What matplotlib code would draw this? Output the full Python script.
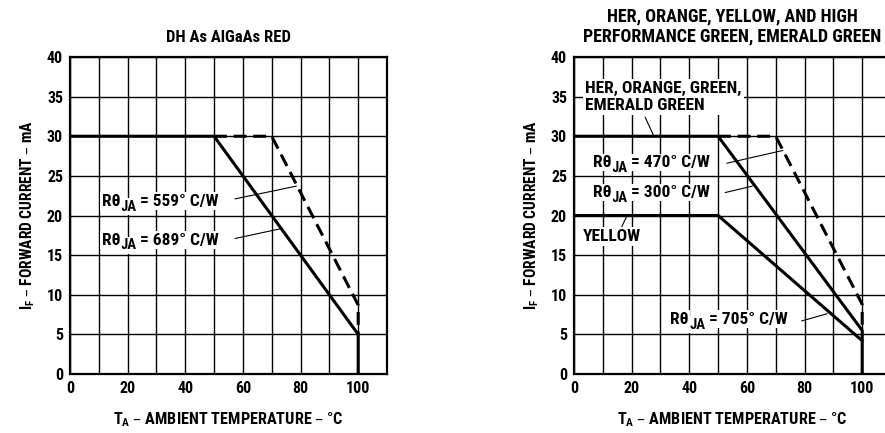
import matplotlib
matplotlib.use('Agg')
import matplotlib.pyplot as plt

plt.rcParams['font.family'] = ['Roboto Condensed', 'DejaVu Sans']
plt.rcParams['font.weight'] = 'bold'
plt.rcParams['axes.titleweight'] = 'bold'
plt.rcParams['axes.labelweight'] = 'bold'

# left chart: DH As AlGaAs red
left_solid_t = [0, 50, 100, 100]
left_solid_i = [30, 30, 5, 0]
left_dash_t = [50, 70, 100, 100]
left_dash_i = [30, 30, 8.7, 5]

# right chart: HER / orange / green / emerald green and yellow
her_t = [0, 50, 100, 100]
her_i = [30, 30, 5.5, 0]
yellow_t = [0, 50, 100]
yellow_i = [20, 20, 4.2]
right_dash_t = [50, 70, 100, 100]
right_dash_i = [30, 30, 8.8, 5.5]

x_ticks = [0, 20, 40, 60, 80, 100]
y_ticks = [0, 5, 10, 15, 20, 25, 30, 35, 40]

FS = 12.5
W, H = 885, 433
LW = 2.2
DASH = (0, (4.2, 2.2))


def box(pad=1.5):
    return dict(facecolor='white', edgecolor='none', pad=pad)


def setup_axes(ax):
    ax.set_xlim(0, 110)
    ax.set_ylim(0, 40)
    ax.set_xticks(range(0, 111, 10), minor=True)
    ax.set_xticks(x_ticks)
    ax.set_yticks(y_ticks)
    ax.grid(True, which='both', color='black', linewidth=1.0)
    ax.tick_params(which='both', length=0, labelsize=11.5, pad=5)
    for s in ax.spines.values():
        s.set_linewidth(1.6)
    ax.set_axisbelow(True)
    ax.set_xlabel('T$_\\mathregular{A}$ – AMBIENT TEMPERATURE – °C', fontsize=11.7, labelpad=10)
    ax.set_ylabel('I$_\\mathregular{F}$ – FORWARD CURRENT – mA', fontsize=11.2, labelpad=7)


def rtheta(ax, x, y, value, x0, y0, x1, y1):
    # R-theta with a big subscript JA, drawn in three pieces
    # (left pieces sit on top so that the white boxes never hide a glyph)
    t1 = ax.text(x, y, 'Rθ', fontsize=FS, ha='left', va='center', zorder=4.3,
                 bbox=box(1.0))
    t2 = ax.annotate('JA', xy=(1, 0), xycoords=t1, xytext=(0.3, -3.5),
                     textcoords='offset points', fontsize=FS * 0.85,
                     ha='left', va='bottom', zorder=4.2, bbox=box(1.0))
    ax.annotate(' = ' + value + '° C/W', xy=(1, 0), xycoords=(t2, t1),
                xytext=(-0.5, 0), textcoords='offset points', fontsize=FS,
                ha='left', va='bottom', zorder=4.1, bbox=box(1.0))
    ax.plot([x0, x1], [y0, y1], color='black', linewidth=0.8, zorder=5)


def note(ax, x, y, s, x0, y0, x1, y1):
    ax.text(x, y, s, fontsize=FS, ha='left', va='center', zorder=4,
            linespacing=1.15, bbox=box())
    ax.plot([x0, x1], [y0, y1], color='black', linewidth=0.8, zorder=5)


fig = plt.figure(figsize=(W / 100, H / 100), dpi=100)

ax1 = fig.add_axes([70 / W, (H - 374) / H, 317 / W, 317 / H])
setup_axes(ax1)
ax1.set_title('DH As AlGaAs RED', fontsize=12, pad=11)
ax1.plot(left_solid_t, left_solid_i, color='black', linewidth=LW, zorder=6)
ax1.plot(left_dash_t, left_dash_i, color='black', linewidth=LW, zorder=6,
         linestyle=DASH)
rtheta(ax1, 11, 21.8, '559', 57.3, 22.1, 78.5, 23.7)
rtheta(ax1, 11, 16.9, '689', 57.3, 17.1, 72.7, 18.3)

ax2 = fig.add_axes([574 / W, (H - 374) / H, 317 / W, 317 / H])
setup_axes(ax2)
ax2.set_title('HER, ORANGE, YELLOW, AND HIGH\nPERFORMANCE GREEN, EMERALD GREEN',
              fontsize=13, pad=11, linespacing=1.2)
ax2.plot(her_t, her_i, color='black', linewidth=LW, zorder=6)
ax2.plot(yellow_t, yellow_i, color='black', linewidth=LW, zorder=6)
ax2.plot(right_dash_t, right_dash_i, color='black', linewidth=LW, zorder=6,
         linestyle=DASH)
note(ax2, 3.8, 35.0, 'HER, ORANGE, GREEN,\nEMERALD GREEN', 24.7, 32.4, 27.6, 30.1)
rtheta(ax2, 6.6, 26.7, '470', 53.1, 26.6, 72.4, 28.2)
rtheta(ax2, 6.6, 22.9, '300', 52.5, 22.9, 61.8, 23.7)
note(ax2, 3.2, 17.3, 'YELLOW', 16.6, 18.6, 18.3, 19.9)
rtheta(ax2, 33.4, 6.9, '705', 79.1, 6.7, 87.8, 7.6)

fig.savefig('out.png', dpi=100)
